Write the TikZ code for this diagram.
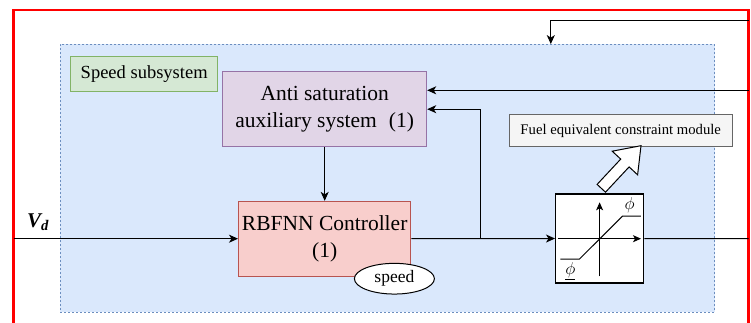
\documentclass[tikz,border=0pt]{standalone}
\usepackage{fontspec}
\setmainfont{Liberation Serif}
\usetikzlibrary{arrows.meta,shapes.geometric}
\definecolor{bluefill}{HTML}{DAE8FC}
\definecolor{blueedge}{HTML}{6C8EBF}
\definecolor{greenfill}{HTML}{D5E8D4}
\definecolor{greenedge}{HTML}{82B366}
\definecolor{purplefill}{HTML}{E1D5E7}
\definecolor{purpleedge}{HTML}{9673A6}
\definecolor{pinkfill}{HTML}{F8CECC}
\definecolor{pinkedge}{HTML}{B85450}
\definecolor{greyfill}{HTML}{F5F5F5}
\definecolor{greyedge}{HTML}{666666}
\begin{document}
\begin{tikzpicture}[x=1pt,y=-1pt,
    >={Stealth[length=9pt,width=8pt,inset=2.5pt]},
    block/.style={draw,line width=1pt,inner sep=0pt,align=center,
      font=\fontsize{21.5}{26.5}\selectfont},
    wire/.style={line width=1pt}]
    \clip (0,0) rectangle (751,323);
    \fill[white] (0,0) rectangle (751,323);
    % outer frame
    \draw[red, line width=2.5pt] (13.5,10) rectangle (748.5,345);
    % speed subsystem area
    \node[draw=blueedge, fill=bluefill, dash pattern=on 2pt off 2pt,
      minimum width=654.3pt, minimum height=267.4pt, inner sep=0pt] (area) at (387.45,178) {};
    \node[block, fill=greenfill, draw=greenedge, minimum width=146.5pt, minimum height=35.3pt,
      font=\fontsize{18.5}{22}\selectfont] (sub) at (144.2,73.7) {Speed subsystem};
    \node[block, fill=purplefill, draw=purpleedge, minimum width=204pt, minimum height=75pt]
      (anti) at (324.7,109.2) {Anti saturation\\auxiliary system\hspace{12pt}(1)};
    \node[block, fill=pinkfill, draw=pinkedge, minimum width=172.4pt, minimum height=74.7pt]
      (rbf) at (324.7,238.7) {RBFNN Controller\\(1)};
    \node[draw, ellipse, line width=1pt, fill=white, minimum width=80pt, minimum height=30.7pt,
      inner sep=0pt, font=\fontsize{17.5}{20}\selectfont] (spd) at (394.4,278.7) {speed};
    \node[draw=greyedge, fill=greyfill, line width=1pt, minimum width=223.3pt, minimum height=32.4pt,
      inner sep=0pt, font=\fontsize{14.7}{17}\selectfont] (fuel) at (620.7,130.5) {Fuel equivalent constraint module};
    \node[draw, line width=1.4pt, fill=white, minimum width=88pt, minimum height=89pt,
      inner sep=0pt] (sat) at (599.7,238.5) {};
    % saturation curve
    \draw[wire, ->, >={Stealth[length=8pt,width=7pt,inset=2pt]}] (558,238.7) -- (641,238.7);
    \draw[wire, ->, >={Stealth[length=8pt,width=7pt,inset=2pt]}] (599.6,276.3) -- (599.6,202.3);
    \draw[wire] (560.3,259) -- (579.5,259) -- (622.6,216) -- (640.8,216);
    \node[inner sep=0pt, font=\fontsize{17}{19}\selectfont] (phimax) at (629.5,204) {$\bar{\phi}$};
    \node[inner sep=0pt, font=\fontsize{17}{19}\selectfont] (phimin) at (570.3,271.5) {$\underline{\phi}$};
    % hollow arrow to the constraint module
    \draw[line width=1pt, fill=white] (597.1,184.4) -- (620.7,159.1) -- (612.2,151.2) -- (641,145.7)
      -- (637.6,174.8) -- (629.1,166.9) -- (605.5,192.2) -- cycle;
    % input label
    \node[font=\fontsize{21}{24}\selectfont\bfseries\itshape] (vd) at (38,222) {V\textsubscript{d}};
    % signal lines
    \coordinate (in) at (13.5,238.7);
    \coordinate (out) at (748.5,238.7);
    \coordinate (fb) at (748.5,90.3);
    \coordinate (top) at (748.5,20.7);
    \coordinate (drop) at (550.8,20.7);
    \coordinate (br) at (480,238.7);
    \draw[wire, ->] (in) -- (rbf);
    \draw[wire, ->] (rbf) -- (sat);
    \draw[wire] (sat) -- (out);
    \draw[wire, ->] (anti) -- (rbf);
    \draw[wire, ->] (br) |- (anti);
    \draw[wire, ->] (fb) -- (anti.east |- fb);
    \draw[wire, ->] (top) -- (drop) -- (drop |- area.north);
\end{tikzpicture}
\end{document}
